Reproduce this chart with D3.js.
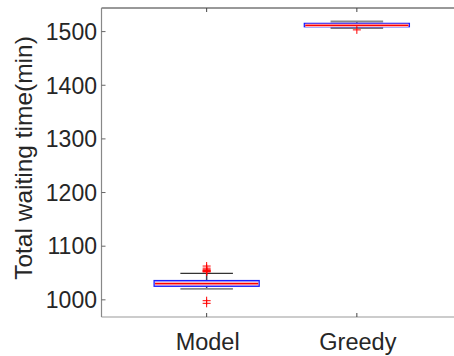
<!DOCTYPE html>
<html>
<head>
<meta charset="utf-8">
<script src="https://cdn.jsdelivr.net/npm/d3@7"></script>
<style>
  html, body { margin: 0; padding: 0; background: #fff; overflow: hidden; }
  svg { display: block; font-family: 'Liberation Sans', Arial, sans-serif; }
</style>
</head>
<body>
<svg id="chart" width="454" height="356"></svg>
<script>
// box plot summary per method (minutes)
const categories = ['Model', 'Greedy'];
const q1 = [1025.2, 1509.0];
const medians = [1030.2, 1511.6];
const q3 = [1036.0, 1515.4];
const whiskerLow = [1020.4, 1506.5];
const whiskerHigh = [1049.5, 1518.8];
const outliers = [
  [1063, 1059, 1056, 1055, 1054, 1053, 1052, 998.4, 993.5],
  [1503.2],
];
const yTicks = [1000, 1100, 1200, 1300, 1400, 1500];
const yLabel = 'Total waiting time(min)';

const margin = { top: 8, left: 101.5, bottom: 317, right: 462 };
const svg = d3.select('#chart');

const x = d3.scaleLinear().domain([0.3, 2.7]).range([margin.left, margin.right]);
const y = d3.scaleLinear().domain([968, 1544]).range([margin.bottom, margin.top]);

const boxW = 0.7;
const capW = 0.35;
const capColors = [{ hi: '#333', lo: '#888' }, { hi: '#888', lo: '#777' }];

// axis lines
svg.append('line')
  .attr('x1', margin.left).attr('x2', 454)
  .attr('y1', margin.top).attr('y2', margin.top)
  .attr('stroke', '#333').attr('stroke-width', 1);
svg.append('line')
  .attr('x1', margin.left).attr('x2', 454)
  .attr('y1', margin.bottom).attr('y2', margin.bottom)
  .attr('stroke', '#999').attr('stroke-width', 1.2);
svg.append('line')
  .attr('x1', margin.left).attr('x2', margin.left)
  .attr('y1', margin.top).attr('y2', margin.bottom)
  .attr('stroke', '#888').attr('stroke-width', 1.2);

// y ticks + labels
const yg = svg.append('g');
yg.selectAll('line').data(yTicks).join('line')
  .attr('x1', margin.left).attr('x2', margin.left + 4)
  .attr('y1', d => y(d)).attr('y2', d => y(d))
  .attr('stroke', '#666');
yg.selectAll('text').data(yTicks).join('text')
  .attr('x', 97).attr('y', d => y(d))
  .attr('dy', '0.36em')
  .attr('text-anchor', 'end')
  .attr('font-size', 23)
  .attr('fill', '#262626')
  .text(d => d);

// x ticks (bottom and top) + labels
const xg = svg.append('g');
categories.forEach((c, i) => {
  const cx = x(i + 1);
  xg.append('line').attr('x1', cx).attr('x2', cx)
    .attr('y1', margin.bottom).attr('y2', margin.bottom - 4).attr('stroke', '#444');
  xg.append('line').attr('x1', cx).attr('x2', cx)
    .attr('y1', margin.top).attr('y2', margin.top + 4).attr('stroke', '#444');
  xg.append('text')
    .attr('x', cx + 1).attr('y', 349.5)
    .attr('text-anchor', 'middle')
    .attr('font-size', 23.5)
    .attr('fill', '#262626')
    .text(c);
});

// y label
svg.append('text')
  .attr('transform', 'translate(31.5,158) rotate(-90)')
  .attr('text-anchor', 'middle')
  .attr('font-size', 24.5)
  .attr('fill', '#262626')
  .text(yLabel);

// boxes
const boxes = svg.append('g');
categories.forEach((c, i) => {
  const p = i + 1;
  const g = boxes.append('g');
  // whisker stems
  g.append('line')
    .attr('x1', x(p)).attr('x2', x(p))
    .attr('y1', y(whiskerHigh[i])).attr('y2', y(q3[i]))
    .attr('stroke', '#445').attr('stroke-width', 1.5);
  g.append('line')
    .attr('x1', x(p)).attr('x2', x(p))
    .attr('y1', y(q1[i])).attr('y2', y(whiskerLow[i]))
    .attr('stroke', '#445').attr('stroke-width', 1.5);
  // caps
  g.append('line')
    .attr('x1', x(p - capW / 2)).attr('x2', x(p + capW / 2))
    .attr('y1', y(whiskerHigh[i])).attr('y2', y(whiskerHigh[i]))
    .attr('stroke', capColors[i].hi).attr('stroke-width', i === 0 ? 1.3 : 2.2);
  g.append('line')
    .attr('x1', x(p - capW / 2)).attr('x2', x(p + capW / 2))
    .attr('y1', y(whiskerLow[i])).attr('y2', y(whiskerLow[i]))
    .attr('stroke', capColors[i].lo).attr('stroke-width', 1.8);
  // box
  g.append('rect')
    .attr('x', x(p - boxW / 2))
    .attr('y', y(q3[i]))
    .attr('width', x(p + boxW / 2) - x(p - boxW / 2))
    .attr('height', y(q1[i]) - y(q3[i]))
    .attr('fill', '#a8a8ff')
    .attr('stroke', '#1a1aff').attr('stroke-width', 1.2);
  // median
  g.append('line')
    .attr('x1', x(p - boxW / 2) + 1).attr('x2', x(p + boxW / 2) - 1)
    .attr('y1', y(medians[i])).attr('y2', y(medians[i]))
    .attr('stroke', '#ffb4b4').attr('stroke-width', 3.2);
  g.append('line')
    .attr('x1', x(p - boxW / 2) + 1).attr('x2', x(p + boxW / 2) - 1)
    .attr('y1', y(medians[i])).attr('y2', y(medians[i]))
    .attr('stroke', '#ff0000').attr('stroke-width', 1.3);
  // outliers as '+'
  g.selectAll('path.out').data(outliers[i]).join('path')
    .attr('class', 'out')
    .attr('d', d => `M${x(p) - 4},${y(d)}h8M${x(p)},${y(d) - 4}v8`)
    .attr('stroke', '#ff0000').attr('stroke-width', 1)
    .attr('fill', 'none');
});
</script>
</body>
</html>
